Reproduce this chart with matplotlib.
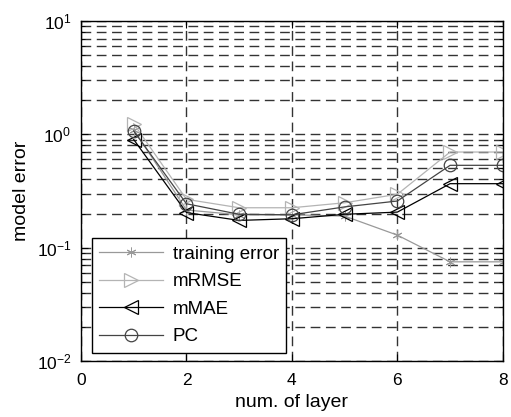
import matplotlib

matplotlib.use("Agg")
import matplotlib.pyplot as plt
from matplotlib.ticker import LogLocator, NullFormatter

layers = [1, 2, 3, 4, 5, 6, 7, 8]
training_error = [1.1, 0.215, 0.195, 0.195, 0.19, 0.129, 0.075, 0.075]
mrmse = [1.24, 0.267, 0.225, 0.225, 0.249, 0.296, 0.698, 0.698]
mmae = [0.90, 0.204, 0.174, 0.18, 0.197, 0.206, 0.367, 0.367]
pc = [1.07, 0.244, 0.197, 0.195, 0.229, 0.258, 0.533, 0.533]

plt.rcParams.update({
    "font.family": ["Liberation Sans", "DejaVu Sans"],
    "font.size": 13,
    "mathtext.default": "regular",
})

fig = plt.figure(figsize=(5.11, 4.17), dpi=100)
ax = fig.add_axes([0.1585, 0.1343, 0.8255, 0.8153])

# MATLAB-style '*' marker: six-armed asterisk
ax.plot(layers, training_error, color="#999999", lw=0.9, marker=(6, 2, 0),
        ms=7, mec="#999999", mew=0.7, label="training error")
ax.plot(layers, mrmse, color="#b4b4b4", lw=0.9, marker=">", ms=10,
        mfc="none", mec="#b4b4b4", mew=0.9, label="mRMSE")
ax.plot(layers, mmae, color="black", lw=0.9, marker="<", ms=10,
        mfc="none", mec="black", mew=0.9, label="mMAE")
ax.plot(layers, pc, color="#444444", lw=0.9, marker="o", ms=9,
        mfc="none", mec="#444444", mew=0.9, label="PC")

ax.set_yscale("log")
ax.set_ylim(1e-2, 1e1)
ax.set_xlim(0, 8)
ax.set_xticks([0, 2, 4, 6, 8])
ax.yaxis.set_major_locator(LogLocator(base=10, numticks=10))
ax.yaxis.set_minor_locator(LogLocator(base=10, subs=range(2, 10), numticks=10))
ax.yaxis.set_minor_formatter(NullFormatter())

ax.grid(True, which="major", ls=(0, (7, 4)), color="#333333", lw=1.0)
ax.grid(True, which="minor", axis="y", ls=(0, (7, 4)), color="#333333", lw=1.0)

ax.tick_params(which="both", direction="in", top=True, right=True)
ax.tick_params(which="major", length=5, labelsize=12.5)
ax.tick_params(axis="x", which="major", pad=9)
ax.tick_params(axis="y", which="major", pad=7)
ax.tick_params(which="minor", length=3)
for sp in ax.spines.values():
    sp.set_linewidth(1.0)

ax.set_xlabel("num. of layer", fontsize=14, labelpad=4)
ax.set_ylabel("model error", fontsize=14, labelpad=5)

leg = ax.legend(loc="lower left", bbox_to_anchor=(0.026, 0.024),
                fancybox=False, edgecolor="black", framealpha=1,
                fontsize=13.5, handlelength=3.4, handletextpad=0.5,
                borderaxespad=0, labelspacing=0.55)
leg.get_frame().set_linewidth(1.0)

fig.savefig("out.png", dpi=100)
